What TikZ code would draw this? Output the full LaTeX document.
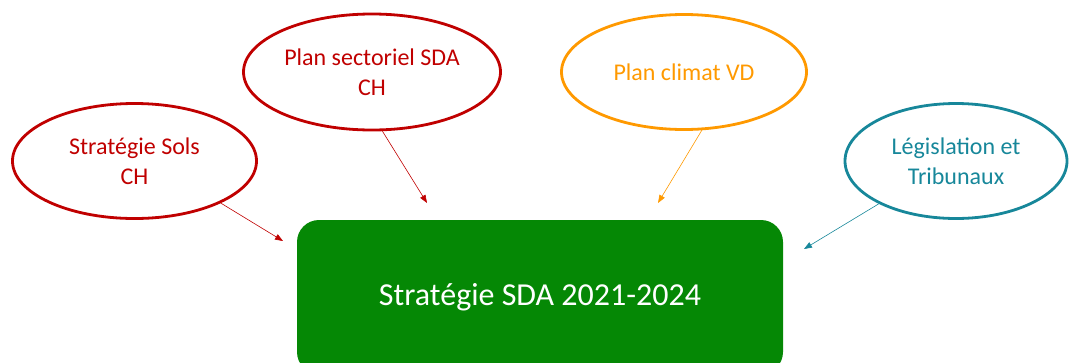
\documentclass[tikz,border=0pt]{standalone}
\usepackage{fontspec}
\setmainfont{Carlito}
\usetikzlibrary{shapes.geometric,arrows.meta}
\definecolor{dred}{HTML}{C00000}
\definecolor{orng}{HTML}{FF9900}
\definecolor{tealb}{HTML}{17879A}
\definecolor{dgreen}{HTML}{058805}
\tikzset{el/.style = {ellipse, line width=2.8pt, draw, align=center, inner sep=0pt, font=\fontsize{24}{30}\selectfont},
         bx/.style = {rounded corners=22pt, fill=dgreen, text=white, minimum width=486pt, minimum height=154pt, font=\fontsize{32}{36}\selectfont},
         ar/.style = {->, line width=0.6pt}}

\begin{document}
\begin{tikzpicture}[x=1pt, y=-1pt, >={Triangle[length=8pt,width=6pt]}]
    \useasboundingbox (0,0) rectangle (1070,362);
    \clip (0,0) rectangle (1070,362);
    \node[bx] (sda) at (540,297) {Stratégie SDA 2021-2024};
    \node[el, dred, minimum width=244pt, minimum height=115pt] (sols) at (134.5,161) {Stratégie Sols\\CH};
    \node[el, dred, minimum width=257pt, minimum height=116pt] (sect) at (372,72) {Plan sectoriel SDA\\CH};
    \node[el, orng, minimum width=245pt, minimum height=115pt] (clim) at (684,72) {Plan climat VD};
    \node[el, tealb, minimum width=222pt, minimum height=115pt] (legi) at (956,161) {Législation et\\Tribunaux};
    \coordinate (e1) at (283,241);
    \coordinate (e2) at (427,203);
    \coordinate (e3) at (658,203);
    \coordinate (e4) at (804,249);
    \draw[ar, dred] (sols.-26) -- (e1);
    \draw[ar, dred] (sect.-80) -- (e2);
    \draw[ar, orng] (clim.-73) -- (e3);
    \draw[ar, tealb] (legi.-151) -- (e4);
\end{tikzpicture}
\end{document}
